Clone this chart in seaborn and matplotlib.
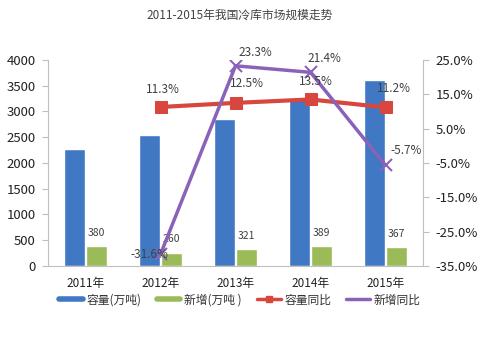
import numpy as np
import pandas as pd
import matplotlib
matplotlib.use("Agg")
import matplotlib.pyplot as plt
import seaborn as sns
from matplotlib.lines import Line2D

years = ["2011年", "2012年", "2013年", "2014年", "2015年"]
capacity = [2280, 2540, 2860, 3245, 3610]
new_add = [380, 260, 321, 389, 367]
cap_yoy = [None, 11.3, 12.5, 13.5, 11.2]
new_yoy = [None, -31.6, 23.3, 21.4, -5.7]
series_names = ["容量(万吨)", "新增(万吨 )", "容量同比", "新增同比"]
left_ticks = list(range(0, 4001, 500))
right_ticks = [25, 15, 5, -5, -15, -25, -35]

sns.set_theme(style="white")
plt.rcParams['font.family'] = ['Noto Sans CJK SC', 'DejaVu Sans']

BLUE = "#4178C4"
GREEN = "#9BBB59"
RED = "#D8473E"
PURPLE = "#8A63B8"
TXT = "#404040"
AX = "#BFBFBF"

fig = plt.figure(figsize=(5, 3.37), dpi=100)
ax = fig.add_axes([0.096, 0.211, 0.75, 0.611])

df = pd.DataFrame({
    "year": years * 2,
    "value": capacity + new_add,
    "series": [series_names[0]] * len(years) + [series_names[1]] * len(years),
})
sns.barplot(data=df, x="year", y="value", hue="series", order=years,
            hue_order=series_names[:2], palette=[BLUE, GREEN],
            width=0.58, gap=0.06, ax=ax, legend=False, saturation=1)

ax.set_ylim(0, 4000)
ax.set_xlim(-0.5, len(years) - 0.5)
ax.set_yticks(left_ticks)
ax.set_yticklabels([str(t) for t in left_ticks])
ax.set_xlabel("")
ax.set_ylabel("")
for s in ["top", "right"]:
    ax.spines[s].set_visible(False)
for s in ["left", "bottom"]:
    ax.spines[s].set_color(AX)
    ax.spines[s].set_linewidth(0.8)
ax.tick_params(axis="y", colors=AX, labelcolor="#222222", labelsize=9.5,
               length=4, width=0.8, direction="out", pad=5)
ax.tick_params(axis="x", length=0, labelsize=8.5, labelcolor="#222222", pad=8)
xpos = np.arange(len(years))
ax.set_xticks(xpos, minor=False)
ax.set_xticklabels(years)
ax.set_xticks(np.arange(len(years) + 1) - 0.5, minor=True)
ax.tick_params(axis="x", which="minor", length=4, color=AX, direction="inout")

# green bar labels
new_bars = ax.containers[1]
for rect, v in zip(new_bars, new_add):
    ax.annotate(str(v), (rect.get_x() + rect.get_width() / 2, rect.get_height()),
                xytext=(0, 6), textcoords="offset points", ha="center", va="bottom",
                fontsize=7.5, color=TXT)

ax2 = ax.twinx()
ax2.set_position(ax.get_position())
x_line = xpos[1:]
sns.lineplot(x=x_line, y=cap_yoy[1:], ax=ax2, color=RED, linewidth=3,
             marker="s", markersize=8, markeredgecolor=RED, legend=False)
sns.lineplot(x=x_line, y=new_yoy[1:], ax=ax2, color=PURPLE, linewidth=2.5,
             marker="x", markersize=8, markeredgewidth=1.5, markeredgecolor=PURPLE, legend=False)
ax2.set_ylim(-35, 25)
ax2.set_xlim(-0.5, len(years) - 0.5)
ax2.set_yticks(right_ticks)
ax2.set_yticklabels([f"{t:.1f}%" for t in right_ticks])
for s in ["top", "left", "bottom"]:
    ax2.spines[s].set_visible(False)
ax2.spines["right"].set_color(AX)
ax2.spines["right"].set_linewidth(0.8)
ax2.tick_params(axis="y", colors=AX, labelcolor="#222222", labelsize=9.5,
                length=4, width=0.8, direction="out", pad=5)

cap_off = [(2, 8), (8, 9), (4, 8), (6, 9)]
for x, v, off in zip(x_line, cap_yoy[1:], cap_off):
    ax2.annotate(f"{v:.1f}%", (x, v), xytext=off, textcoords="offset points",
                 ha="center", va="bottom", fontsize=8.5, color=TXT)
new_off = [(-8, 0, "center"), (14, 5, "bottom"), (10, 5, "bottom"), (15, 6, "bottom")]
for x, v, (dx, dy, va) in zip(x_line, new_yoy[1:], new_off):
    ax2.annotate(f"{v:.1f}%", (x, v), xytext=(dx, dy), textcoords="offset points",
                 ha="center", va=va, fontsize=8.5, color=TXT)

fig.text(0.48, 0.955, "2011-2015年我国冷库市场规模走势", ha="center", va="center",
         fontsize=8.5, color="#444444")

handles = [
    Line2D([0], [0], color=BLUE, linewidth=4),
    Line2D([0], [0], color=GREEN, linewidth=4),
    Line2D([0], [0], color=RED, linewidth=2.5, marker="s", markersize=5),
    Line2D([0], [0], color=PURPLE, linewidth=2.5),
]
fig.legend(handles, series_names, loc="center", bbox_to_anchor=(0.48, 0.11),
           ncol=4, frameon=False, fontsize=8.5, handlelength=2.0, columnspacing=1.3,
           handletextpad=0.3, labelcolor="#333333")

fig.savefig("out.png", dpi=100)
